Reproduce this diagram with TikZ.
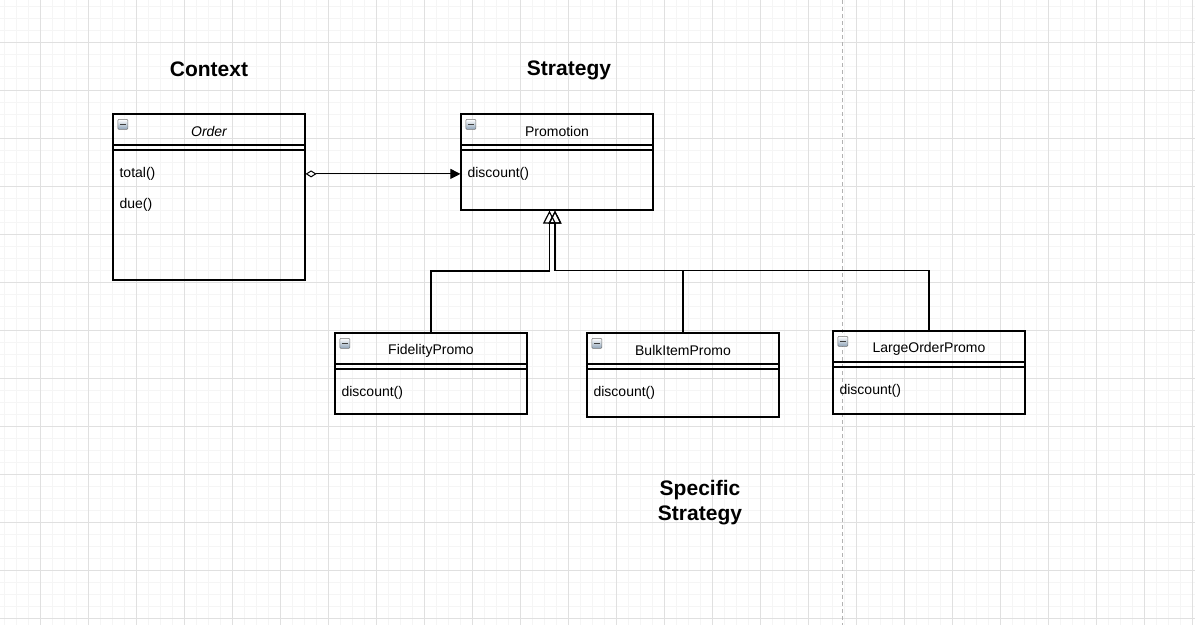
\documentclass[tikz,border=0pt]{standalone}
\usepackage{fontspec}
\setmainfont{Liberation Sans}
\usetikzlibrary{arrows.meta,calc}

\definecolor{minorgridcol}{HTML}{F5F5F5}
\definecolor{majorgridcol}{HTML}{E0E0E0}
\definecolor{iconcol}{HTML}{8EA3B8}

\begin{document}
\begin{tikzpicture}[x=1pt,y=-1pt,
	classbox/.style={draw, line width=1.2pt, minimum width=192pt, inner sep=0pt},
	sepline/.style={line width=1.2pt},
	classname/.style={inner sep=0pt, font=\fontsize{14}{17}\selectfont},
	method/.style={anchor=west, inner sep=0pt, font=\fontsize{14}{17}\selectfont},
	title/.style={inner sep=0pt, align=center, font=\fontsize{21}{25}\selectfont\bfseries},
	icon/.style={rectangle, rounded corners=1pt, minimum size=10pt, inner sep=0pt,
		draw=black!55, line width=0.6pt, top color=white, bottom color=iconcol,
		path picture={\draw[line width=1.2pt, black!75]
			([xshift=2pt]path picture bounding box.center-|path picture bounding box.west) --
			([xshift=-2pt]path picture bounding box.center-|path picture bounding box.east);}},
	aggr/.style={line width=1pt, {Diamond[open,length=11pt,width=7pt]}-{Triangle[length=10pt,width=10pt]}},
	inherit/.style={line width=1.2pt, -{Triangle[open,length=13pt,width=13pt]}}
]
	\useasboundingbox (0,0) rectangle (1195,625);
	\fill[white] (0,0) rectangle (1195,625);

	% grid
	\foreach \gx in {4,16,...,1195} \draw[minorgridcol, line width=1pt] (\gx,0) -- (\gx,625);
	\foreach \gy in {6,18,...,625} \draw[minorgridcol, line width=1pt] (0,\gy) -- (1195,\gy);
	\foreach \gx in {40,88,...,1195} \draw[majorgridcol, line width=1pt] (\gx,0) -- (\gx,625);
	\foreach \gy in {42,90,...,625} \draw[majorgridcol, line width=1pt] (0,\gy) -- (1195,\gy);
	\draw[black!30, line width=1pt, dash pattern=on 4pt off 3pt] (842,0) -- (842,625);

	% titles
	\node[title] (context) at (209,69) {Context};
	\node[title] (strategy) at (569,70) {Strategy};
	\node[title] (specific) at (700,502.5) {Specific\\Strategy};

	% classes
	\node[classbox, minimum height=166pt] (order) at (209,197) {};
	\node[classbox, minimum height=96pt] (promo) at (557,162) {};
	\node[classbox, minimum height=81pt] (fidelity) at (431,373.5) {};
	\node[classbox, minimum height=84pt] (bulk) at (683,375) {};
	\node[classbox, minimum height=83pt] (large) at (929,372.5) {};

	\foreach \c in {order,promo,fidelity,bulk,large} {
		\draw[sepline] ($(\c.north west)+(0,31.5)$) -- ($(\c.north east)+(0,31.5)$);
		\draw[sepline] ($(\c.north west)+(0,36.5)$) -- ($(\c.north east)+(0,36.5)$);
		\node[icon] (\c-icon) at ($(\c.north west)+(10.5,11)$) {};
	}

	\node[classname] (ordername) at ($(order.north)+(0,18.5)$) {\itshape Order};
	\node[classname] (promoname) at ($(promo.north)+(0,18.5)$) {Promotion};
	\node[classname] (fidelityname) at ($(fidelity.north)+(0,18)$) {FidelityPromo};
	\node[classname] (bulkname) at ($(bulk.north)+(0,18)$) {BulkItemPromo};
	\node[classname] (largename) at ($(large.north)+(0,18)$) {LargeOrderPromo};

	\node[method] (ototal) at ($(order.north west)+(7,60.5)$) {total()};
	\node[method] (odue) at ($(order.north west)+(7,91.5)$) {due()};
	\node[method] (pdiscount) at ($(promo.north west)+(7,60.5)$) {discount()};
	\node[method] (fdiscount) at ($(fidelity.north west)+(7,60)$) {discount()};
	\node[method] (bdiscount) at ($(bulk.north west)+(7,60)$) {discount()};
	\node[method] (ldiscount) at ($(large.north west)+(7,60)$) {discount()};

	% connectors
	\draw[aggr] (order.east |- ototal) -- (promo.west |- ototal);

	\coordinate (busL) at (549.5,271);
	\coordinate (busR) at (555,270.5);
	\draw[inherit] (fidelity.north) |- (busL) -- (busL |- promo.south);
	\draw[inherit] (bulk.north) |- (busR) -- (busR |- promo.south);
	\draw[inherit] (large.north) |- (busR) -- (busR |- promo.south);
\end{tikzpicture}
\end{document}
